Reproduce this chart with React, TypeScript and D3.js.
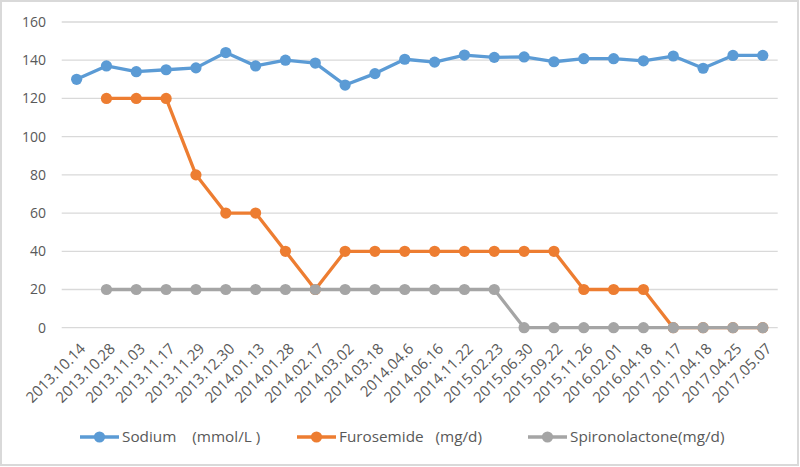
import React from "react";
import * as d3 from "d3";

const categories = [
  "2013.10.14", "2013.10.28", "2013.11.03", "2013.11.17", "2013.11.29", "2013.12.30",
  "2014.01.13", "2014.01.28", "2014.02.17", "2014.03.02", "2014.03.18", "2014.04.6",
  "2014.06.16", "2014.11.22", "2015.02.23", "2015.06.30", "2015.09.22", "2015.11.26",
  "2016.02.01", "2016.04.18", "2017.01.17", "2017.04.18", "2017.04.25", "2017.05.07",
];

const sodium: (number | null)[] = [
  130, 137, 134, 135, 136, 144, 137, 140, 138.5, 127, 133, 140.5,
  139, 142.7, 141.5, 141.7, 139.2, 140.8, 140.8, 139.7, 142.2, 135.8, 142.5, 142.5,
];

const furosemide: (number | null)[] = [
  null, 120, 120, 120, 80, 60, 60, 40, 20, 40, 40, 40,
  40, 40, 40, 40, 40, 20, 20, 20, 0, 0, 0, 0,
];

const spironolactone: (number | null)[] = [
  null, 20, 20, 20, 20, 20, 20, 20, 20, 20, 20, 20,
  20, 20, 20, 0, 0, 0, 0, 0, 0, 0, 0, 0,
];

const yTicks = [0, 20, 40, 60, 80, 100, 120, 140, 160];

const seriesList = [
  { name: "Sodium\u00a0\u00a0\u00a0\u00a0(mmol/L\u00a0)", values: sodium, color: "#5b9bd5" },
  { name: "Furosemide\u00a0\u00a0\u00a0(mg/d)", values: furosemide, color: "#ed7d31" },
  { name: "Spironolactone(mg/d)", values: spironolactone, color: "#a5a5a5" },
];

const W = 800;
const H = 467;
const FONT = "'Open Sans', sans-serif";
const TEXT = "#595959";

export default function App() {
  const x = d3.scaleBand<string>().domain(categories).range([61.7, 777.7]);
  const y = d3.scaleLinear().domain([0, 160]).range([327.7, 22]);
  const cx = (c: string) => (x(c) as number) + x.bandwidth() / 2;

  const legendX = [80, 297, 528];
  const legendY = 437;

  return (
    <svg
      width={W}
      height={H}
      style={{ position: "absolute", left: 0, top: 0, background: "#fff" }}
      fontFamily={FONT}
    >
      <rect x={1} y={1} width={W - 3} height={H - 3} fill="#fff" stroke="#d9d9d9" strokeWidth={2} />
      {yTicks.map((t) => (
        <g key={t}>
          <line x1={61.7} x2={777.7} y1={y(t)} y2={y(t)} stroke="#d9d9d9" strokeWidth={1.3} />
          <text x={46} y={y(t)} dy="0.35em" textAnchor="end" fontSize={14} fill={TEXT}>
            {t}
          </text>
        </g>
      ))}
      {categories.map((c) => (
        <text
          key={c}
          transform={`translate(${cx(c) + 6},${346}) rotate(-45)`}
          textAnchor="end"
          fontSize={15}
          fill={TEXT}
          dy="0.35em"
        >
          {c}
        </text>
      ))}
      {seriesList.map((s) => {
        const line = d3
          .line<number | null>()
          .defined((d) => d !== null)
          .x((_, i) => cx(categories[i]))
          .y((d) => y(d as number));
        return (
          <g key={s.name}>
            <path d={line(s.values) || ""} fill="none" stroke={s.color} strokeWidth={3.3} strokeLinejoin="round" />
            {s.values.map((v, i) =>
              v === null ? null : (
                <circle key={i} cx={cx(categories[i])} cy={y(v)} r={5.6} fill={s.color} />
              )
            )}
          </g>
        );
      })}
      {seriesList.map((s, i) => (
        <g key={"lg" + i} transform={`translate(${legendX[i]},${legendY})`}>
          <line x1={0} x2={39} y1={0} y2={0} stroke={s.color} strokeWidth={3.3} />
          <circle cx={19.5} cy={0} r={5.6} fill={s.color} />
          <text x={42} y={0} dy="0.35em" fontSize={15.3} fill={TEXT}>
            {s.name}
          </text>
        </g>
      ))}
    </svg>
  );
}
